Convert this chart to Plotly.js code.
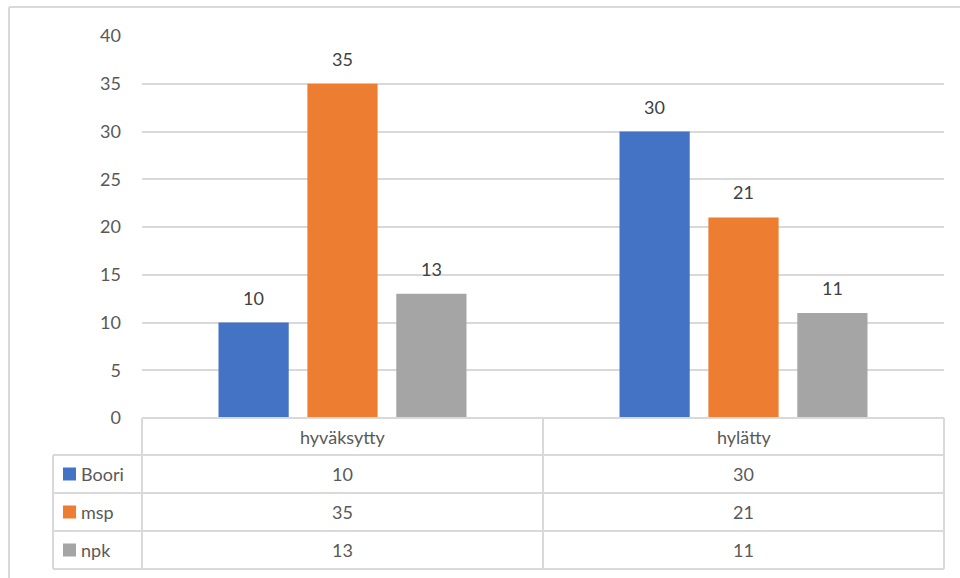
<!DOCTYPE html>
<html>
<head>
<meta charset="utf-8">
<script src="https://cdn.plot.ly/plotly-3.0.1.min.js"></script>
<style>html,body{margin:0;padding:0;background:#fff;}#chart{width:960px;height:578px;}</style>
</head>
<body>
<div id="chart"></div>
<script>
const categories = ["hyväksytty", "hylätty"];
const seriesNames = ["Boori", "msp", "npk"];
const boori = [10, 30];
const msp = [35, 21];
const npk = [13, 11];
const yTicks = [0, 5, 10, 15, 20, 25, 30, 35, 40];

const seriesValues = [boori, msp, npk];
const colors = ["#4472C4", "#ED7D31", "#A5A5A5"];
const FONT = "Lato, 'Open Sans', sans-serif";
const TXT = "#595959";
const FS = 18;

// plot area in pixels
const L = 142, R = 944, T = 36, B = 418, W = 960, H = 578;
const px = x => (x - L) / (R - L);
const py = y => (B - y) / (B - T);

const traces = seriesNames.map((name, i) => ({
  type: "bar",
  name: name,
  x: categories,
  y: seriesValues[i],
  marker: {color: colors[i]},
  hoverinfo: "skip"
}));

const lineColor = "#D9D9D9";
const shapes = [];
function hline(x0, x1, y) {
  shapes.push({type: "line", xref: "paper", yref: "paper", x0: px(x0), x1: px(x1), y0: py(y), y1: py(y), line: {color: lineColor, width: 2}});
}
function vline(x, y0, y1) {
  shapes.push({type: "line", xref: "paper", yref: "paper", x0: px(x), x1: px(x), y0: py(y0), y1: py(y1), line: {color: lineColor, width: 2}});
}
// outer chart border (top and left)
hline(9, 970, 7);
vline(9, 7, 590);

// data table
const rowTops = [455, 493, 531];
const rowH = 38;
hline(L, R, B);
rowTops.forEach(y => hline(53, R, y));
hline(53, R, rowTops[2] + rowH);
vline(53, rowTops[0], rowTops[2] + rowH);
vline(L, B, rowTops[2] + rowH);
vline((L + R) / 2, B, rowTops[2] + rowH);
vline(R, B, rowTops[2] + rowH);

const annotations = [];
// data labels above bars
const slot = 89;
seriesNames.forEach((name, i) => {
  categories.forEach((c, j) => {
    annotations.push({xref: "x", yref: "y", x: c, y: seriesValues[i][j], text: String(seriesValues[i][j]), showarrow: false,
      xshift: (i - 1) * slot, yshift: 12, xanchor: "center", yanchor: "bottom",
      font: {family: FONT, size: FS, color: "#404040"}});
  });
});
// header (category) labels
categories.forEach(c => {
  annotations.push({xref: "x", yref: "paper", x: c, y: py((B + rowTops[0]) / 2), text: c, showarrow: false,
    font: {family: FONT, size: FS, color: TXT}, xanchor: "center", yanchor: "middle"});
});
// rows
seriesNames.forEach((name, i) => {
  const yc = rowTops[i] + rowH / 2;
  shapes.push({type: "rect", xref: "paper", yref: "paper", x0: px(63), x1: px(76), y0: py(yc - 6.5), y1: py(yc + 6.5),
    fillcolor: colors[i], line: {width: 0}});
  annotations.push({xref: "paper", yref: "paper", x: px(79), y: py(yc), text: name, showarrow: false,
    font: {family: FONT, size: FS, color: TXT}, xanchor: "left", yanchor: "middle"});
  categories.forEach((c, j) => {
    annotations.push({xref: "x", yref: "paper", x: c, y: py(yc), text: String(seriesValues[i][j]), showarrow: false,
      font: {family: FONT, size: FS, color: TXT}, xanchor: "center", yanchor: "middle"});
  });
});

const layout = {
  width: W, height: H,
  margin: {l: L, r: W - R, t: T, b: H - B, pad: 0},
  paper_bgcolor: "#fff", plot_bgcolor: "#fff",
  showlegend: false,
  barmode: "group",
  bargap: 0.335,
  bargroupgap: 0.21,
  hovermode: false,
  xaxis: {showticklabels: false, showgrid: false, zeroline: false, showline: false, ticks: "", fixedrange: true},
  yaxis: {range: [0, 40], tickvals: yTicks, ticktext: yTicks.map(String), showgrid: true, gridcolor: lineColor, gridwidth: 2,
    zeroline: false, showline: false, ticks: "", ticklabelstandoff: 20,
    tickfont: {family: FONT, size: FS, color: TXT}, fixedrange: true},
  shapes: shapes,
  annotations: annotations
};

Plotly.newPlot("chart", traces, layout, {displayModeBar: false, staticPlot: true});
</script>
</body>
</html>
